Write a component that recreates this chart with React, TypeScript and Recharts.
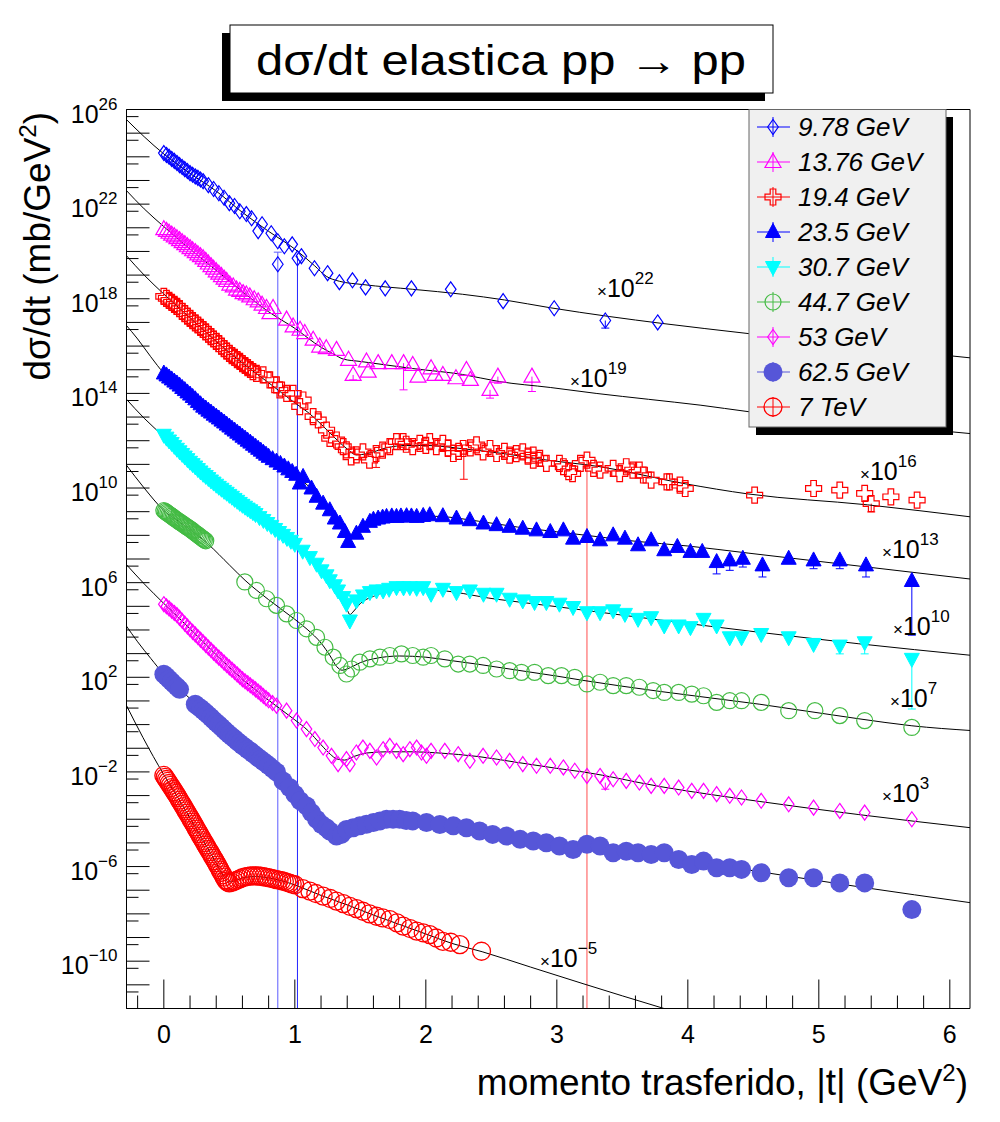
import React from "react";
import {
  ComposedChart,
  Scatter,
  Line,
  XAxis,
  YAxis,
  ReferenceArea,
  ReferenceLine,
} from "recharts";

// [ |t| (GeV^2), log10 of plotted dsigma/dt (scale factor included) ]
type P = [number, number];

const FONT = "'Liberation Sans', Arial, Helvetica, sans-serif";

// ---------- measured points ----------
const S978: P[] = [
  [0, 24.16], [0.02, 24.08], [0.04, 24], [0.06, 23.91], [0.08, 23.83], [0.1, 23.74], [0.12, 23.65],
  [0.14, 23.57], [0.16, 23.48], [0.18, 23.4], [0.2, 23.31], [0.22, 23.24], [0.24, 23.17], [0.26, 23.11],
  [0.28, 23.04], [0.3, 22.97], [0.34, 22.8], [0.38, 22.64], [0.42, 22.46], [0.46, 22.27], [0.5, 22.04],
  [0.54, 21.92], [0.58, 21.7], [0.63, 21.58], [0.67, 21.4], [0.72, 20.86], [0.75, 21.15], [0.82, 20.77],
  [0.87, 20.43], [0.87, 19.46], [0.92, 20.22], [0.98, 20.3], [1.02, 19.71], [1.05, 19.8], [1.15, 19.29],
  [1.25, 19.08], [1.34, 18.7], [1.44, 18.78], [1.54, 18.48], [1.69, 18.44], [1.89, 18.44], [2.19, 18.4],
  [2.59, 17.9], [2.98, 17.6], [3.37, 17.08], [3.77, 17.0],
];

const S1376: P[] = [
  [0, 20.94], [0.02, 20.87], [0.04, 20.79], [0.06, 20.71], [0.08, 20.64], [0.1, 20.56], [0.12, 20.48],
  [0.14, 20.39], [0.16, 20.31], [0.18, 20.22], [0.2, 20.14], [0.22, 20.05], [0.24, 19.97], [0.26, 19.88],
  [0.28, 19.8], [0.3, 19.71], [0.32, 19.6], [0.34, 19.49], [0.36, 19.38], [0.38, 19.27], [0.4, 19.16],
  [0.42, 19.06], [0.44, 18.96], [0.46, 18.85], [0.48, 18.75], [0.504, 18.6], [0.53, 18.52], [0.555, 18.39],
  [0.58, 18.33], [0.605, 18.24], [0.63, 18.18], [0.656, 18.1], [0.69, 17.98], [0.72, 17.89], [0.75, 17.75],
  [0.784, 17.61], [0.81, 17.39], [0.834, 17.61], [0.937, 17.12], [0.987, 16.83], [1.04, 16.69],
  [1.076, 16.55], [1.14, 16.27], [1.19, 15.98], [1.24, 15.91], [1.318, 15.84], [1.41, 15.42],
  [1.445, 14.78], [1.547, 15.35], [1.56, 14.92], [1.636, 15.28], [1.74, 15.28], [1.83, 15.28], [1.9, 15.2],
  [1.94, 14.71], [2.04, 15.06], [2.07, 14.78], [2.13, 14.78], [2.23, 14.64], [2.31, 14.99], [2.34, 14.57],
  [2.49, 14.15], [2.55, 14.71], [2.81, 14.71],
];

const S194: P[] = [
  [0, 18.1], [0.02, 18.02], [0.04, 17.93], [0.06, 17.85], [0.08, 17.76], [0.1, 17.68], [0.12, 17.58],
  [0.14, 17.47], [0.16, 17.37], [0.18, 17.27], [0.2, 17.17], [0.22, 17.08], [0.24, 16.98], [0.26, 16.89],
  [0.28, 16.79], [0.3, 16.7], [0.32, 16.6], [0.34, 16.5], [0.36, 16.4], [0.38, 16.3], [0.4, 16.2],
  [0.42, 16.1], [0.44, 16.0], [0.46, 15.89], [0.48, 15.79], [0.5, 15.69], [0.52, 15.6], [0.54, 15.52],
  [0.56, 15.43], [0.58, 15.35], [0.6, 15.26], [0.62, 15.18], [0.64, 15.09], [0.66, 15.01], [0.68, 14.92],
  [0.707, 14.85], [0.758, 14.78], [0.809, 14.57], [0.86, 14.36], [0.885, 14.15], [0.937, 14.0],
  [0.987, 14.0], [1.038, 13.44], [1.063, 13.72], [1.14, 13.02], [1.178, 12.88], [1.242, 12.45],
  [1.267, 12.1], [1.318, 12.03], [1.369, 11.75], [1.394, 11.61], [1.43, 11.32], [1.47, 11.4], [1.52, 11.53],
  [1.57, 11.18], [1.62, 11.46], [1.67, 11.6], [1.725, 11.75], [1.776, 11.96], [1.827, 11.96], [1.85, 11.85],
  [1.9, 11.75], [1.954, 11.89], [2.0, 11.8], [2.03, 11.96], [2.08, 11.75], [2.13, 11.89], [2.17, 11.7],
  [2.21, 11.46], [2.25, 11.55], [2.285, 11.67], [2.34, 11.7], [2.387, 11.82], [2.437, 11.53], [2.49, 11.67],
  [2.54, 11.46], [2.6, 11.55], [2.64, 11.39], [2.69, 11.45], [2.74, 11.53], [2.78, 11.35], [2.82, 11.18],
  [2.82, 11.39], [2.87, 11.25], [2.92, 11.04], [3.02, 11.04], [3.05, 10.9], [3.09, 10.69], [3.12, 10.61],
  [3.18, 11.04], [3.23, 11.18], [3.28, 10.83], [3.33, 10.76], [3.43, 10.83], [3.48, 10.61], [3.53, 10.9],
  [3.58, 10.76], [3.63, 10.76], [3.66, 10.55], [3.72, 10.33], [3.84, 10.26], [3.86, 10.26], [3.94, 10.12],
  [3.98, 9.98], [4.51, 9.7], [4.96, 9.98], [5.16, 9.91], [5.35, 9.77], [5.4, 9.34], [5.55, 9.63], [5.75, 9.49],
];

const S235: P[] = [
  [0, 14.84], [0.02, 14.76], [0.04, 14.67], [0.06, 14.59], [0.08, 14.5], [0.1, 14.42], [0.12, 14.33],
  [0.14, 14.23], [0.16, 14.14], [0.18, 14.04], [0.2, 13.95], [0.22, 13.85], [0.24, 13.75], [0.26, 13.64],
  [0.28, 13.54], [0.3, 13.44], [0.32, 13.36], [0.34, 13.27], [0.36, 13.19], [0.38, 13.1], [0.4, 13.02],
  [0.42, 12.94], [0.44, 12.85], [0.46, 12.77], [0.48, 12.68], [0.5, 12.6], [0.52, 12.51], [0.54, 12.43],
  [0.56, 12.34], [0.58, 12.26], [0.6, 12.17], [0.62, 12.09], [0.64, 12.0], [0.66, 11.92], [0.68, 11.83],
  [0.7, 11.75], [0.72, 11.66], [0.74, 11.58], [0.76, 11.49], [0.78, 11.41], [0.8, 11.32], [0.83, 11.22],
  [0.86, 11.12], [0.89, 11.02], [0.92, 10.91], [0.95, 10.79], [0.98, 10.68], [1.01, 10.56], [1.038, 10.19],
  [1.063, 10.47], [1.127, 9.98], [1.166, 9.63], [1.216, 9.34], [1.267, 9.06], [1.305, 8.71], [1.344, 8.5],
  [1.382, 8.14], [1.407, 7.72], [1.47, 8.07], [1.52, 8.36], [1.573, 8.57], [1.6, 8.66], [1.636, 8.71],
  [1.67, 8.75], [1.7, 8.78], [1.74, 8.8], [1.776, 8.78], [1.81, 8.8], [1.853, 8.81], [1.89, 8.8], [1.93, 8.78],
  [1.98, 8.82], [2.03, 8.85], [2.13, 8.81], [2.234, 8.71], [2.336, 8.64], [2.44, 8.5], [2.54, 8.43],
  [2.64, 8.36], [2.74, 8.28], [2.845, 8.21], [2.95, 8.14], [3.05, 8.21], [3.124, 7.86], [3.23, 7.93],
  [3.33, 7.79], [3.43, 8.0], [3.52, 7.86], [3.62, 7.58], [3.72, 7.79], [3.82, 7.37], [3.92, 7.51],
  [4.02, 7.3], [4.11, 7.3], [4.22, 6.87], [4.32, 6.94], [4.42, 7.01], [4.57, 6.73], [4.77, 7.01],
  [4.96, 6.94], [5.16, 6.94], [5.36, 6.73], [5.71, 6.07],
];

const S307: P[] = [
  [0, 12.25], [0.02, 12.13], [0.04, 12.01], [0.06, 11.9], [0.08, 11.78], [0.1, 11.66], [0.12, 11.55],
  [0.14, 11.44], [0.16, 11.33], [0.18, 11.22], [0.2, 11.11], [0.22, 11.01], [0.24, 10.91], [0.26, 10.8],
  [0.28, 10.7], [0.3, 10.6], [0.32, 10.51], [0.34, 10.42], [0.36, 10.32], [0.38, 10.23], [0.4, 10.14],
  [0.42, 10.05], [0.44, 9.97], [0.46, 9.88], [0.48, 9.8], [0.5, 9.71], [0.52, 9.63], [0.54, 9.54],
  [0.56, 9.46], [0.58, 9.37], [0.6, 9.29], [0.62, 9.21], [0.64, 9.13], [0.66, 9.06], [0.68, 8.98],
  [0.7, 8.9], [0.73, 8.77], [0.76, 8.65], [0.79, 8.52], [0.82, 8.4], [0.85, 8.27], [0.88, 8.14],
  [0.91, 8.02], [0.94, 7.89], [0.97, 7.77], [1.0, 7.64], [1.06, 7.35], [1.115, 7.08], [1.166, 6.8],
  [1.204, 6.52], [1.242, 6.31], [1.267, 6.1], [1.305, 5.89], [1.33, 5.67], [1.369, 5.39], [1.394, 5.11],
  [1.42, 4.4], [1.47, 5.25], [1.52, 5.46], [1.573, 5.6], [1.624, 5.67], [1.674, 5.67], [1.72, 5.74],
  [1.776, 5.81], [1.83, 5.8], [1.878, 5.81], [1.93, 5.78], [1.98, 5.81], [2.04, 5.53], [2.13, 5.74],
  [2.234, 5.6], [2.336, 5.67], [2.44, 5.53], [2.54, 5.53], [2.64, 5.32], [2.74, 5.25], [2.83, 5.18],
  [2.92, 5.18], [3.02, 5.11], [3.124, 4.97], [3.23, 4.75], [3.33, 4.75], [3.43, 4.83], [3.52, 4.68],
  [3.62, 4.47], [3.72, 4.54], [3.82, 4.19], [3.93, 4.19], [4.02, 4.12], [4.12, 4.47], [4.22, 4.19],
  [4.32, 3.69], [4.41, 3.69], [4.56, 3.83], [4.77, 3.69], [4.96, 3.41], [5.16, 3.34], [5.35, 3.48],
  [5.71, 2.78],
];

const S447: P[] = [
  [0, 9.05], [0.01, 9.01], [0.02, 8.97], [0.03, 8.93], [0.04, 8.89], [0.05, 8.85], [0.06, 8.81],
  [0.07, 8.77], [0.08, 8.73], [0.09, 8.69], [0.1, 8.65], [0.11, 8.61], [0.12, 8.57], [0.13, 8.54],
  [0.14, 8.5], [0.15, 8.46], [0.16, 8.42], [0.17, 8.38], [0.18, 8.35], [0.19, 8.31], [0.2, 8.27],
  [0.21, 8.23], [0.22, 8.19], [0.23, 8.14], [0.24, 8.1], [0.25, 8.06], [0.26, 8.02], [0.27, 7.98],
  [0.28, 7.93], [0.29, 7.89], [0.3, 7.85], [0.31, 7.81], [0.32, 7.77],
  [0.618, 6.03], [0.707, 5.67], [0.784, 5.32], [0.86, 5.04], [0.937, 4.68], [1.013, 4.4], [1.089, 4.05],
  [1.166, 3.69], [1.23, 3.27], [1.293, 2.85], [1.344, 2.5], [1.394, 2.14], [1.433, 2.35], [1.496, 2.64],
  [1.573, 2.78], [1.65, 2.85], [1.725, 2.92], [1.814, 2.99], [1.9, 2.92], [1.98, 2.85], [2.04, 2.92],
  [2.145, 2.78], [2.247, 2.56], [2.336, 2.56], [2.437, 2.5], [2.54, 2.35], [2.64, 2.28], [2.73, 2.21],
  [2.83, 2.21], [2.934, 2.07], [3.036, 2.07], [3.137, 2.0], [3.23, 1.72], [3.33, 1.79], [3.43, 1.65],
  [3.53, 1.65], [3.63, 1.58], [3.735, 1.44], [3.82, 1.36], [3.93, 1.36], [4.03, 1.29], [4.12, 1.22],
  [4.22, 0.94], [4.32, 1.01], [4.41, 1.01], [4.56, 0.94], [4.77, 0.59], [4.97, 0.59], [5.16, 0.38],
  [5.35, 0.17], [5.71, -0.12],
];

const S53: P[] = [
  [0, 5.09], [0.02, 5.0], [0.04, 4.91], [0.06, 4.81], [0.08, 4.72], [0.1, 4.63], [0.12, 4.51],
  [0.14, 4.39], [0.16, 4.27], [0.18, 4.15], [0.2, 4.03], [0.22, 3.92], [0.24, 3.81], [0.26, 3.7],
  [0.28, 3.59], [0.3, 3.48], [0.32, 3.37], [0.34, 3.26], [0.36, 3.15], [0.38, 3.04], [0.4, 2.93],
  [0.42, 2.83], [0.44, 2.73], [0.46, 2.62], [0.48, 2.52], [0.5, 2.42], [0.52, 2.32], [0.54, 2.22],
  [0.56, 2.12], [0.58, 2.02], [0.6, 1.92], [0.62, 1.83], [0.64, 1.75], [0.66, 1.66], [0.68, 1.58],
  [0.7, 1.49], [0.72, 1.4], [0.74, 1.31], [0.76, 1.21], [0.78, 1.12], [0.8, 1.03], [0.83, 0.91],
  [0.86, 0.8], [0.937, 0.59], [1.013, 0.17], [1.089, -0.19], [1.153, -0.61], [1.216, -0.97],
  [1.28, -1.32], [1.33, -1.67], [1.394, -1.46], [1.42, -1.67], [1.47, -1.18], [1.52, -0.97],
  [1.573, -1.11], [1.624, -1.39], [1.674, -1.04], [1.725, -0.9], [1.776, -1.11], [1.827, -1.25],
  [1.878, -1.04], [1.93, -0.97], [1.967, -1.18], [2.005, -1.32], [2.04, -1.11], [2.145, -1.11],
  [2.247, -1.25], [2.336, -1.53], [2.437, -1.32], [2.54, -1.39], [2.64, -1.53], [2.74, -1.67],
  [2.845, -1.74], [2.95, -1.74], [3.05, -1.81], [3.137, -1.95], [3.23, -2.17], [3.33, -2.17],
  [3.37, -2.45], [3.43, -2.31], [3.53, -2.38], [3.63, -2.45], [3.72, -2.59], [3.82, -2.59],
  [3.93, -2.66], [4.03, -2.8], [4.12, -2.8], [4.22, -2.94], [4.32, -3.01], [4.41, -3.08], [4.56, -3.22],
  [4.77, -3.37], [4.96, -3.51], [5.16, -3.65], [5.35, -3.72], [5.71, -4.0],
];

const S625: P[] = [
  [0, 2.13], [0.02, 2.03], [0.04, 1.92], [0.06, 1.81], [0.08, 1.7], [0.1, 1.6], [0.12, 1.49],
  [0.24, 0.86], [0.26, 0.77], [0.28, 0.69], [0.3, 0.6], [0.32, 0.5], [0.34, 0.4], [0.36, 0.3],
  [0.38, 0.19], [0.4, 0.09], [0.42, -0.01], [0.44, -0.11], [0.46, -0.22], [0.48, -0.32], [0.5, -0.42],
  [0.52, -0.51], [0.54, -0.6], [0.56, -0.7], [0.58, -0.79], [0.6, -0.88], [0.62, -0.96], [0.64, -1.05],
  [0.66, -1.13], [0.68, -1.22], [0.7, -1.3], [0.72, -1.39], [0.74, -1.47], [0.76, -1.56], [0.78, -1.64],
  [0.8, -1.73], [0.83, -1.87], [0.86, -2.0], [0.91, -2.38], [0.96, -2.66], [1.0, -2.94], [1.04, -3.22],
  [1.09, -3.44], [1.127, -3.72], [1.166, -4.0], [1.204, -4.22], [1.24, -4.36], [1.267, -4.5],
  [1.318, -4.71], [1.356, -4.64], [1.394, -4.43], [1.445, -4.36], [1.496, -4.28], [1.547, -4.21],
  [1.6, -4.14], [1.65, -4.07], [1.7, -4.0], [1.75, -4.0], [1.8, -4.0], [1.85, -4.05], [1.9, -4.07],
  [2.005, -4.14], [2.107, -4.22], [2.21, -4.28], [2.31, -4.36], [2.41, -4.5], [2.51, -4.64],
  [2.616, -4.71], [2.72, -4.85], [2.82, -4.92], [2.92, -4.99], [3.02, -5.13], [3.124, -5.28],
  [3.23, -5.06], [3.33, -5.13], [3.43, -5.42], [3.53, -5.35], [3.62, -5.42], [3.72, -5.49], [3.82, -5.42],
  [3.93, -5.7], [4.03, -5.91], [4.12, -5.77], [4.22, -6.05], [4.32, -6.05], [4.41, -6.12], [4.56, -6.26],
  [4.77, -6.47], [4.96, -6.47], [5.16, -6.69], [5.35, -6.69], [5.71, -7.82],
];

const S7T: P[] = [
  [0, -2.15], [0.01, -2.23], [0.02, -2.32], [0.03, -2.4], [0.04, -2.49], [0.05, -2.57], [0.06, -2.66],
  [0.07, -2.74], [0.08, -2.83], [0.09, -2.91], [0.1, -3.0], [0.11, -3.09], [0.12, -3.19], [0.13, -3.28],
  [0.14, -3.37], [0.15, -3.47], [0.16, -3.56], [0.17, -3.65], [0.18, -3.74], [0.19, -3.84], [0.2, -3.93],
  [0.21, -4.03], [0.22, -4.12], [0.23, -4.22], [0.24, -4.32], [0.25, -4.42], [0.26, -4.51], [0.27, -4.61],
  [0.28, -4.71], [0.29, -4.8], [0.3, -4.9], [0.31, -4.99], [0.32, -5.09], [0.33, -5.18], [0.34, -5.28],
  [0.35, -5.37], [0.36, -5.46], [0.37, -5.56], [0.38, -5.65], [0.39, -5.75], [0.4, -5.84], [0.41, -5.94],
  [0.42, -6.04], [0.43, -6.15], [0.44, -6.25], [0.45, -6.35], [0.46, -6.45], [0.47, -6.55], [0.48, -6.62],
  [0.49, -6.67], [0.5, -6.69], [0.52, -6.67], [0.54, -6.62], [0.56, -6.57], [0.58, -6.52], [0.6, -6.47],
  [0.62, -6.44], [0.64, -6.42], [0.66, -6.4], [0.68, -6.39], [0.7, -6.39], [0.72, -6.4], [0.74, -6.41],
  [0.76, -6.43], [0.78, -6.45], [0.8, -6.47], [0.82, -6.5], [0.84, -6.52], [0.86, -6.55], [0.88, -6.57],
  [0.9, -6.6], [0.92, -6.63], [0.94, -6.67], [0.96, -6.7], [0.98, -6.74], [1.0, -6.77], [1.06, -6.93],
  [1.115, -7.04], [1.16, -7.14], [1.216, -7.25], [1.27, -7.35], [1.318, -7.46], [1.37, -7.57],
  [1.42, -7.68], [1.47, -7.78], [1.52, -7.89], [1.57, -8.0], [1.624, -8.1], [1.67, -8.17], [1.725, -8.24],
  [1.78, -8.38], [1.827, -8.52], [1.88, -8.62], [1.93, -8.73], [1.98, -8.8], [2.03, -8.88], [2.08, -9.02],
  [2.13, -9.16], [2.19, -9.2], [2.26, -9.3], [2.425, -9.58],
];

// ---------- fitted curves ----------
const F978: P[] = [
  [-0.29, 25.6], [-0.15, 24.85], [0, 24.12], [0.2, 23.3], [0.4, 22.55], [0.6, 21.65], [0.8, 20.85],
  [1.0, 20.1], [1.15, 19.4], [1.24, 18.95], [1.34, 18.74], [1.52, 18.6], [1.9, 18.4], [2.28, 18.19],
  [2.6, 17.95], [2.95, 17.62], [3.4, 17.25], [3.8, 16.96], [4.46, 16.53], [5.3, 16.0], [6.16, 15.5],
];
const F1376: P[] = [
  [-0.29, 22.6], [-0.15, 21.8], [0, 21.05], [0.2, 20.1], [0.4, 19.2], [0.6, 18.3], [0.8, 17.45],
  [1.0, 16.75], [1.2, 15.95], [1.3, 15.65], [1.37, 15.45], [1.5, 15.35], [1.7, 15.2], [1.9, 15.05],
  [2.28, 14.8], [2.56, 14.5], [2.95, 14.25], [3.3, 14.0], [3.7, 13.75], [4.1, 13.5], [4.46, 13.23],
  [5.3, 12.75], [6.16, 12.3],
];
const F194: P[] = [
  [-0.29, 19.85], [-0.15, 19.0], [0, 18.2], [0.2, 17.2], [0.4, 16.2], [0.6, 15.28], [0.8, 14.45],
  [1.0, 13.6], [1.1, 13.2], [1.2, 12.7], [1.3, 12.15], [1.4, 11.65], [1.47, 11.4], [1.55, 11.45],
  [1.7, 11.7], [1.85, 11.8], [2.0, 11.8], [2.3, 11.65], [2.6, 11.45], [2.9, 11.2], [3.33, 10.9],
  [3.98, 10.18], [4.46, 9.75], [5.37, 9.29], [6.16, 8.78],
];
const F235: P[] = [
  [-0.29, 16.9], [-0.2, 16.3], [-0.1, 15.55], [0, 14.85], [0.2, 13.95], [0.4, 13.02], [0.6, 12.17],
  [0.8, 11.32], [1.0, 10.55], [1.1, 10.1], [1.2, 9.45], [1.3, 8.8], [1.37, 8.2], [1.41, 7.95],
  [1.45, 8.05], [1.52, 8.4], [1.6, 8.62], [1.75, 8.78], [1.9, 8.82], [2.1, 8.8], [2.4, 8.6], [2.7, 8.35],
  [3.0, 8.15], [3.3, 7.95], [3.6, 7.75], [4.0, 7.55], [4.46, 7.25], [5.0, 6.9], [5.37, 6.66], [6.16, 6.15],
];
const F307: P[] = [
  [-0.29, 13.78], [-0.15, 12.95], [0, 12.17], [0.2, 11.1], [0.4, 10.15], [0.6, 9.29], [0.8, 8.5],
  [1.0, 7.64], [1.1, 7.12], [1.2, 6.55], [1.3, 5.85], [1.36, 5.3], [1.4, 4.85], [1.42, 4.65], [1.45, 4.8],
  [1.5, 5.12], [1.6, 5.42], [1.78, 5.69], [2.03, 5.69], [2.54, 5.3], [3.02, 4.97], [3.79, 4.42],
  [4.55, 3.9], [5.3, 3.42], [6.16, 2.93],
];
const F447: P[] = [
  [-0.29, 11.0], [-0.15, 10.0], [0, 9.05], [0.15, 8.45], [0.34, 7.62], [0.5, 6.75], [0.62, 6.1],
  [0.8, 5.28], [1.0, 4.45], [1.1, 4.0], [1.2, 3.45], [1.27, 2.9], [1.32, 2.45], [1.36, 2.3], [1.42, 2.4],
  [1.5, 2.62], [1.6, 2.78], [1.8, 2.9], [2.0, 2.85], [2.2, 2.7], [2.4, 2.55], [2.7, 2.3], [3.0, 2.05],
  [3.2, 1.87], [3.79, 1.4], [4.55, 0.86], [5.3, 0.25], [5.71, -0.05], [6.16, -0.25],
];
const F53: P[] = [
  [-0.29, 6.79], [-0.15, 5.95], [0, 5.12], [0.2, 4.05], [0.4, 2.95], [0.6, 1.92], [0.8, 1.03],
  [1.0, 0.2], [1.1, -0.25], [1.2, -0.85], [1.27, -1.25], [1.32, -1.45], [1.38, -1.5], [1.45, -1.35],
  [1.55, -1.2], [1.7, -1.15], [1.9, -1.15], [2.1, -1.2], [2.4, -1.35], [2.7, -1.6], [3.0, -1.85],
  [3.2, -2.0], [3.79, -2.62], [4.55, -3.25], [5.3, -3.8], [6.16, -4.36],
];
const F625: P[] = [
  [-0.29, 4.2], [-0.2, 3.5], [-0.1, 2.8], [0, 2.13], [0.12, 1.5], [0.24, 0.9], [0.4, 0.1], [0.6, -0.88],
  [0.8, -1.73], [0.9, -2.25], [1.0, -2.9], [1.1, -3.5], [1.2, -4.1], [1.27, -4.5], [1.32, -4.6],
  [1.4, -4.45], [1.55, -4.22], [1.7, -4.1], [1.85, -4.08], [2.0, -4.12], [2.3, -4.3], [2.6, -4.62],
  [2.9, -4.95], [3.2, -5.2], [3.8, -5.6], [4.55, -6.22], [5.3, -6.85], [6.16, -7.53],
];
const F7T: P[] = [
  [-0.29, 0.86], [-0.16, -0.54], [0, -2.12], [0.1, -3.02], [0.2, -3.95], [0.3, -4.9], [0.4, -5.85],
  [0.45, -6.35], [0.49, -6.65], [0.53, -6.62], [0.6, -6.48], [0.7, -6.42], [0.8, -6.48], [0.9, -6.6],
  [1.0, -6.78], [1.2, -7.22], [1.4, -7.62], [1.6, -8.05], [1.8, -8.45], [2.0, -8.85], [2.2, -9.25],
  [2.43, -9.6], [2.8, -10.25], [3.2, -10.95], [3.8, -11.97], [4.0, -12.3],
];

// ---------- error bars: [t, low, high, cap on high] ----------
type E = [number, number, number, number?];
const ERR: { color: string; bars: E[] }[] = [
  { color: "#5c5cff", bars: [[0.87, -12, 19.97, 1]] },
  { color: "#2424ff", bars: [[1.02, -12, 19.8]] },
  { color: "#0000ff", bars: [[3.37, 16.76, 17.08]] },
  { color: "#ff00ff", bars: [[1.445, 14.57, 14.78], [1.83, 14.15, 15.28], [2.49, 13.8, 14.15], [2.55, 14.43, 14.71], [2.81, 14.08, 14.71], [3.37, -2.73, -2.45]] },
  { color: "#ff0000", bars: [[1.62, 10.87, 11.46], [2.29, 10.37, 11.67], [5.4, 8.99, 9.34]] },
  { color: "#ff4d4d", bars: [[3.23, -12, 11.18]] },
  { color: "#0000ff", bars: [[4.22, 6.37, 6.87], [4.32, 6.52, 6.94], [4.42, 6.66, 7.01], [4.57, 6.24, 6.73], [4.96, 6.59, 6.94], [5.16, 6.59, 6.94], [5.36, 6.24, 6.73], [5.71, 3.78, 6.07]] },
  { color: "#00ffff", bars: [[5.16, 2.99, 3.34], [5.35, 2.99, 3.48], [5.71, 0.66, 2.78]] },
];

// ---------- axes ----------
const T_DOMAIN: [number, number] = [-0.285, 6.154];
const Y_DOMAIN: [number, number] = [1e-12, 1e26];
const X_TICKS = [
  -0.2, 0, 0.2, 0.4, 0.6, 0.8, 1, 1.2, 1.4, 1.6, 1.8, 2, 2.2, 2.4, 2.6, 2.8, 3, 3.2, 3.4, 3.6, 3.8,
  4, 4.2, 4.4, 4.6, 4.8, 5, 5.2, 5.4, 5.6, 5.8, 6,
];
const Y_EXP = Array.from({ length: 39 }, (_, i) => i - 12);
const Y_TICKS = [...Y_EXP.map((e) => 10 ** e), ...Y_EXP.slice(1).map((e) => 0.5 * 10 ** e)].sort((a, b) => a - b);

// multiplier labels next to each curve
const MULT = [
  { x: 597, y: 297, e: "22" },
  { x: 570, y: 387, e: "19" },
  { x: 860, y: 480, e: "16" },
  { x: 882, y: 558, e: "13" },
  { x: 893, y: 635, e: "10" },
  { x: 890, y: 707, e: "7" },
  { x: 882, y: 802, e: "3" },
  { x: 540, y: 967, e: "\u22125" },
];

// ---------- markers ----------
type Mk = (x: number, y: number, c: string) => React.ReactElement;
const MARK: Record<string, Mk> = {
  diamond: (x, y, c) => (
    <path d={`M${x} ${y - 7.5}L${x + 5.3} ${y}L${x} ${y + 7.5}L${x - 5.3} ${y}Z`} fill="none" stroke={c} strokeWidth={1.2} />
  ),
  triOpen: (x, y, c) => (
    <path d={`M${x} ${y - 8.5}L${x + 8} ${y + 5.5}L${x - 8} ${y + 5.5}Z`} fill="none" stroke={c} strokeWidth={1.2} />
  ),
  cross: (x, y, c) => {
    const a = 2.8;
    const b = 8;
    return (
      <path
        d={`M${x - a} ${y - b}H${x + a}V${y - a}H${x + b}V${y + a}H${x + a}V${y + b}H${x - a}V${y + a}H${x - b}V${y - a}H${x - a}Z`}
        fill="none"
        stroke={c}
        strokeWidth={1.2}
      />
    );
  },
  triUp: (x, y, c) => <path d={`M${x} ${y - 8.5}L${x + 7.5} ${y + 5.5}L${x - 7.5} ${y + 5.5}Z`} fill={c} stroke={c} />,
  triDown: (x, y, c) => <path d={`M${x} ${y + 8.5}L${x + 7.5} ${y - 5.5}L${x - 7.5} ${y - 5.5}Z`} fill={c} stroke={c} />,
  ring: (x, y, c) => <circle cx={x} cy={y} r={8} fill="none" stroke={c} strokeWidth={1.2} />,
  dot: (x, y, c) => <circle cx={x} cy={y} r={9.5} fill={c} />,
  ringBig: (x, y, c) => <circle cx={x} cy={y} r={9} fill="none" stroke={c} strokeWidth={1.3} />,
};

const SERIES = [
  { name: "9.78 GeV", color: "#0000ff", mark: "diamond", data: S978, fit: F978 },
  { name: "13.76 GeV", color: "#ff00ff", mark: "triOpen", data: S1376, fit: F1376 },
  { name: "19.4 GeV", color: "#ff0000", mark: "cross", data: S194, fit: F194 },
  { name: "23.5 GeV", color: "#0000ff", mark: "triUp", data: S235, fit: F235 },
  { name: "30.7 GeV", color: "#00ffff", mark: "triDown", data: S307, fit: F307 },
  { name: "44.7 GeV", color: "#44bb44", mark: "ring", data: S447, fit: F447 },
  { name: "53 GeV", color: "#ff00ff", mark: "diamond", data: S53, fit: F53 },
  { name: "62.5 GeV", color: "#5656d8", mark: "dot", data: S625, fit: F625 },
  { name: "7 TeV", color: "#ff0000", mark: "ringBig", data: S7T, fit: F7T },
];

const pts = (arr: P[]) => arr.map(([t, e]) => ({ t, v: 10 ** e }));

const CAPS = ERR.flatMap((g) =>
  g.bars.flatMap(([t, lo, hi, capHi]) => {
    const out: { t: number; v: number; color: string }[] = [];
    if (lo > -12) out.push({ t, v: 10 ** lo, color: g.color });
    if (capHi) out.push({ t, v: 10 ** hi, color: g.color });
    return out;
  })
);

function XTick(props: any) {
  const { x, y, payload } = props;
  const v = payload.value as number;
  const major = Math.abs(v - Math.round(v)) < 1e-6;
  return (
    <g>
      <line x1={x} x2={x} y1={y} y2={y - (major ? 29 : 13)} stroke="#000" strokeWidth={1} />
      {major && (
        <text x={x} y={y + 34} textAnchor="middle" fontSize={25} fontFamily={FONT} fill="#000">
          {Math.round(v)}
        </text>
      )}
    </g>
  );
}

function YTick(props: any) {
  const { x, y, payload } = props;
  const e = Math.log10(payload.value as number);
  const r = Math.round(e);
  const decade = Math.abs(e - r) < 1e-6;
  const labelled = decade && ((r % 4) + 4) % 4 === 2;
  const exp = r < 0 ? `\u2212${-r}` : `${r}`;
  return (
    <g>
      <line x1={x} x2={x + (decade ? 23 : 12)} y1={y} y2={y} stroke="#000" strokeWidth={1} />
      {labelled && (
        <text x={x - 9} y={y + 13} textAnchor="end" fontSize={25} fontFamily={FONT} fill="#000">
          10
          <tspan dy={-13} fontSize={17}>
            {exp}
          </tspan>
        </text>
      )}
    </g>
  );
}

export default function App() {
  return (
    <div style={{ position: "absolute", left: 0, top: 0, width: 1000, height: 1122, background: "#fff" }}>
      <ComposedChart width={1000} height={1122} margin={{ top: 109.5, right: 30, bottom: 63.5, left: 26.5 }}>
        <XAxis
          type="number"
          dataKey="t"
          domain={T_DOMAIN}
          allowDataOverflow
          ticks={X_TICKS}
          interval={0}
          tick={(p: any) => <XTick {...p} />}
          tickLine={false}
          tickSize={0}
          tickMargin={0}
          axisLine={{ stroke: "#000" }}
          height={50}
        />
        <YAxis
          type="number"
          dataKey="v"
          scale="log"
          domain={Y_DOMAIN}
          allowDataOverflow
          ticks={Y_TICKS}
          interval={0}
          tick={(p: any) => <YTick {...p} />}
          tickLine={false}
          tickSize={0}
          tickMargin={0}
          axisLine={{ stroke: "#000" }}
          width={100}
        />
        <ReferenceArea
          x1={T_DOMAIN[0]}
          x2={T_DOMAIN[1]}
          y1={Y_DOMAIN[0]}
          y2={Y_DOMAIN[1]}
          fill="none"
          fillOpacity={0}
          stroke="#000"
          strokeWidth={1}
          ifOverflow="visible"
        />
        {SERIES.map((s) => (
          <Scatter
            key={`pts-${s.name}`}
            data={pts(s.data)}
            dataKey="v"
            isAnimationActive={false}
            shape={(p: any) => MARK[s.mark](p.cx, p.cy, s.color)}
          />
        ))}
        {ERR.flatMap((g, gi) =>
          g.bars.map(([t, lo, hi], bi) => (
            <ReferenceLine
              key={`err-${gi}-${bi}`}
              segment={[
                { x: t, y: 10 ** lo },
                { x: t, y: 10 ** hi },
              ]}
              stroke={g.color}
              strokeWidth={1}
              ifOverflow="visible"
            />
          ))
        )}
        <Scatter
          data={CAPS}
          dataKey="v"
          isAnimationActive={false}
          shape={(p: any) => (
            <line x1={p.cx - 4} x2={p.cx + 4} y1={p.cy} y2={p.cy} stroke={p.payload.color} strokeWidth={1} />
          )}
        />
        {SERIES.map((s) => (
          <Line
            key={`fit-${s.name}`}
            data={pts(s.fit)}
            dataKey="v"
            type="monotone"
            stroke="#000"
            strokeWidth={1}
            dot={false}
            activeDot={false}
            isAnimationActive={false}
          />
        ))}
      </ComposedChart>

      <svg width={1000} height={1122} style={{ position: "absolute", left: 0, top: 0, pointerEvents: "none" }}>
        {/* title */}
        <rect x={222} y={33} width={543} height={68} fill="#000" />
        <rect x={230} y={25} width={543} height={68} fill="#fff" stroke="#000" strokeWidth={1} />
        <text
          x={256}
          y={75}
          fontSize={42}
          fontFamily={FONT}
          fill="#000"
          textLength={490}
          lengthAdjust="spacingAndGlyphs"
        >
          d{"\u03c3"}/dt elastica pp {"\u2192"} pp
        </text>

        {/* axis titles */}
        <text x={968} y={1095} textAnchor="end" fontSize={37} fontFamily={FONT} fill="#000">
          momento trasferido, |t| (GeV
          <tspan dy={-14} fontSize={24}>
            2
          </tspan>
          <tspan dy={14}>)</tspan>
        </text>
        <text transform="translate(50,112) rotate(-90)" textAnchor="end" fontSize={37} fontFamily={FONT} fill="#000">
          d{"\u03c3"}/dt (mb/GeV
          <tspan dy={-14} fontSize={24}>
            2
          </tspan>
          <tspan dy={14}>)</tspan>
        </text>

        {/* scale factors */}
        {MULT.map((m) => (
          <text key={m.e} x={m.x} y={m.y} fontFamily={FONT} fill="#000">
            <tspan fontSize={17}>{"\u00d7"}</tspan>
            <tspan fontSize={25}>10</tspan>
            <tspan fontSize={17} dy={-13}>
              {m.e}
            </tspan>
          </text>
        ))}

        {/* legend */}
        <rect x={756} y={117} width={197} height={318} fill="#000" />
        <rect x={749} y={109.5} width={197} height={317.5} fill="#f0f0f0" stroke="#666" strokeWidth={1} />
        {SERIES.map((s, i) => {
          const y = 127 + i * 35;
          return (
            <g key={`leg-${s.name}`}>
              <line x1={757} x2={790} y1={y} y2={y} stroke={s.color} strokeWidth={1} />
              <line x1={773} x2={773} y1={y - 10} y2={y + 10} stroke={s.color} strokeWidth={1} />
              {MARK[s.mark](773, y, s.color)}
              <text x={798} y={y + 9} fontSize={26} fontStyle="italic" fontFamily={FONT} fill="#000">
                {s.name}
              </text>
            </g>
          );
        })}
      </svg>
    </div>
  );
}
